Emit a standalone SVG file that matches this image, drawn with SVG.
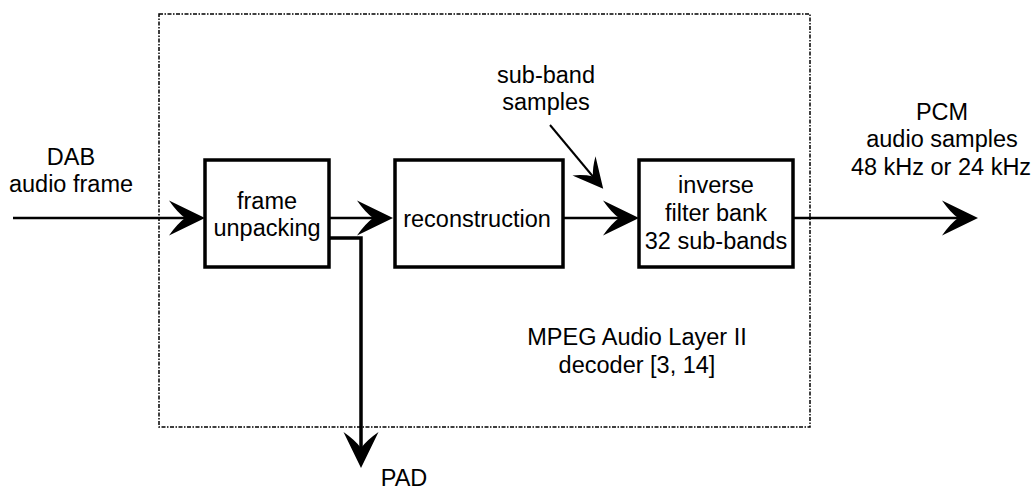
<svg xmlns="http://www.w3.org/2000/svg" width="1034" height="489" viewBox="0 0 1034 489">
<style>
.t{font-family:"Liberation Sans",Arial,sans-serif;font-size:23.5px;fill:#000;text-anchor:middle}
.box{fill:#fff;stroke:#000;stroke-width:3.5}
.c{fill:none;stroke:#000;stroke-width:2.5}
.frame{fill:none;stroke:#000;stroke-width:1.5;stroke-dasharray:4 1.5 1.5 1.5}
</style>
<defs>
<marker id="ah" markerUnits="userSpaceOnUse" viewBox="-42 -20 44 40" refX="-6" refY="0" markerWidth="44" markerHeight="40" orient="auto">
<path d="M0,0 L-36,-17.5 Q-28,-6 -20,0 Q-28,6 -36,17.5 Z" fill="#000"/>
</marker>
<marker id="ahs" markerUnits="userSpaceOnUse" viewBox="-36 -18 38 36" refX="-5" refY="0" markerWidth="38" markerHeight="36" orient="auto">
<path d="M0,0 L-30,-15 Q-23,-5 -16,0 Q-23,5 -30,15 Z" fill="#000"/>
</marker>
</defs>
<rect class="frame" x="159" y="14" width="651" height="413"/>
<g id="connectors">
<line class="c" x1="13" y1="218" x2="199" y2="218" marker-end="url(#ah)"/>
<line class="c" x1="329" y1="218" x2="387" y2="218" marker-end="url(#ah)"/>
<polyline class="c" style="stroke-width:3.5" points="329,238 361,238 361,462" marker-end="url(#ah)"/>
<line class="c" x1="563" y1="218" x2="633" y2="218" marker-end="url(#ah)"/>
<line class="c" style="stroke-width:2" x1="550" y1="125" x2="600" y2="185" marker-end="url(#ahs)"/>
<line class="c" x1="793" y1="218" x2="972" y2="218" marker-end="url(#ah)"/>
</g>
<g id="frame-unpacking">
<rect class="box" x="205" y="160" width="124" height="107"/>
<text class="t" x="267" y="209">frame</text>
<text class="t" x="267" y="236">unpacking</text>
</g>
<g id="reconstruction">
<rect class="box" x="395" y="160" width="168" height="107"/>
<text class="t" x="477" y="227">reconstruction</text>
</g>
<g id="inverse-filter-bank">
<rect class="box" x="639" y="160" width="154" height="107"/>
<text class="t" x="716" y="193">inverse</text>
<text class="t" x="716" y="221">filter bank</text>
<text class="t" x="716" y="249">32 sub-bands</text>
</g>
<g id="labels">
<text class="t" x="71" y="165">DAB</text>
<text class="t" x="71" y="192">audio frame</text>
<text class="t" x="546" y="83">sub-band</text>
<text class="t" x="546" y="110">samples</text>
<text class="t" x="942" y="120">PCM</text>
<text class="t" x="942" y="147">audio samples</text>
<text class="t" x="941" y="175">48 kHz or 24 kHz</text>
<text class="t" x="637" y="345">MPEG Audio Layer II</text>
<text class="t" x="637" y="373">decoder [3, 14]</text>
<text class="t" x="404" y="486">PAD</text>
</g>
</svg>
